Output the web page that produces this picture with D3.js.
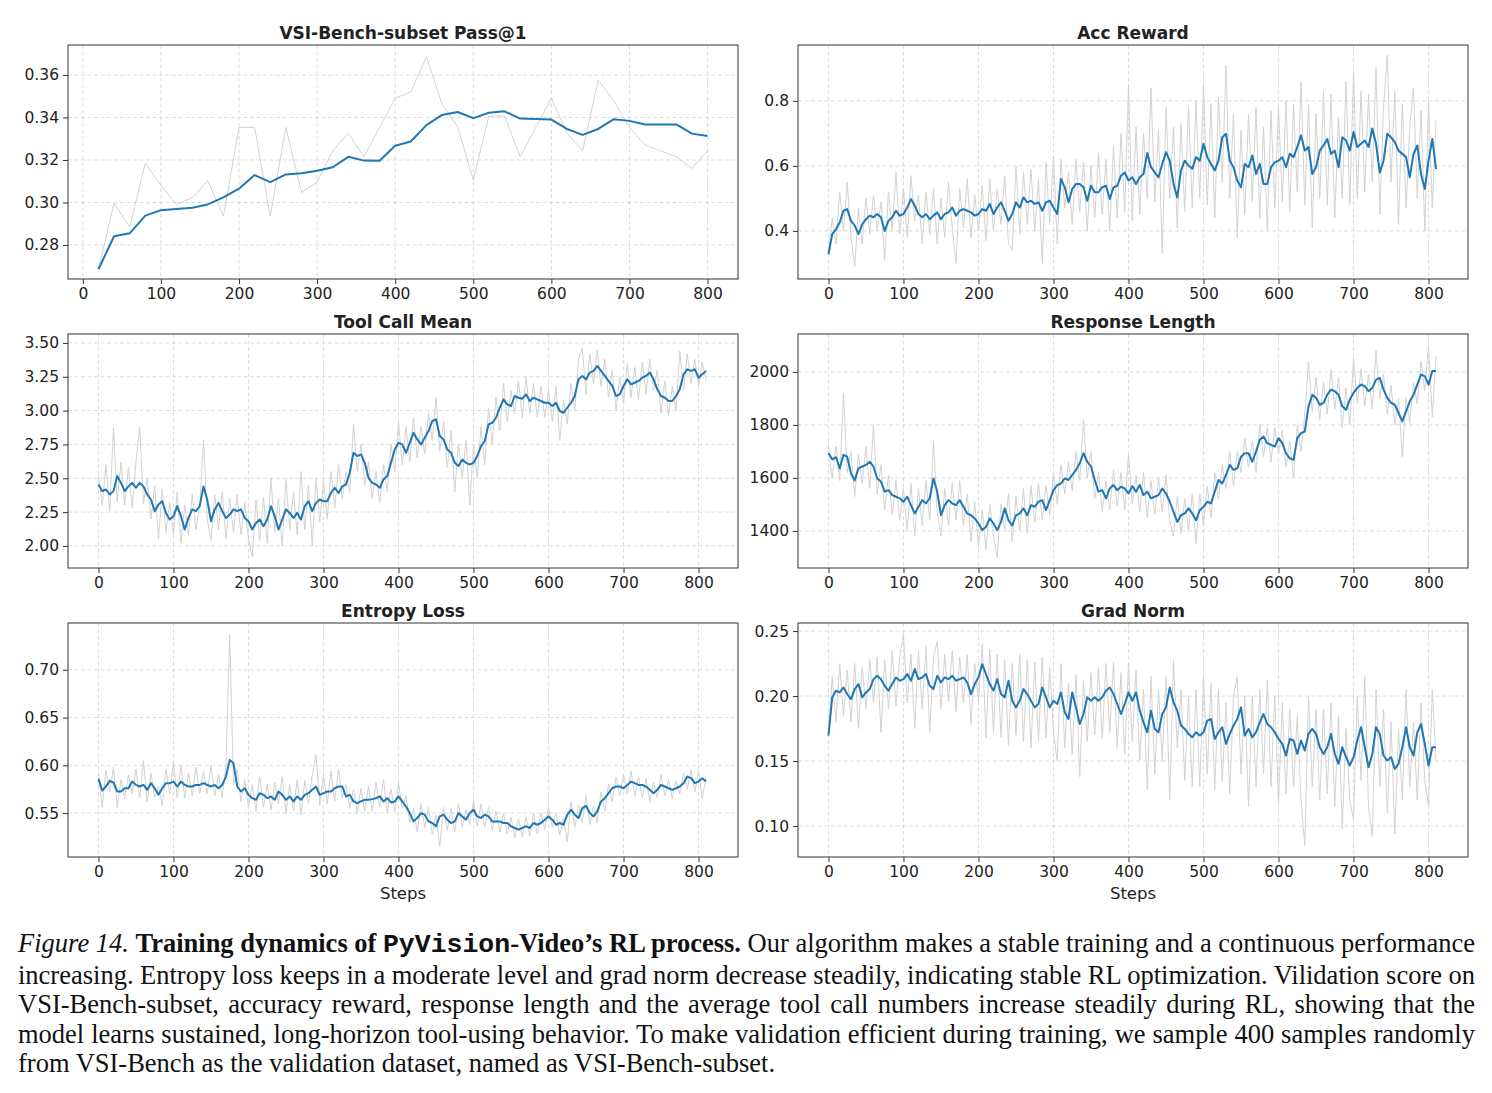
<!DOCTYPE html>
<html>
<head>
<meta charset="utf-8">
<script src="https://cdn.jsdelivr.net/npm/d3@7"></script>
<style>
  body { margin: 0; background: #fff; }
  #fig { position: relative; width: 1492px; height: 1093px; }
  #caption {
    position: absolute; left: 18px; top: 929px; width: 1457px;
    font-family: "Liberation Serif", "Times New Roman", serif;
    font-size: 26.5px; line-height: 29.5px; word-spacing: -1.5px; color: #111;
  }
  #caption div { white-space: nowrap; text-align: justify; text-align-last: justify; }
  #caption div.last { text-align-last: left; word-spacing: 0; }
  #caption .mono { font-family: "Liberation Mono", "DejaVu Sans Mono", monospace; font-weight: bold; }
  .panel text { font-family: "DejaVu Sans", sans-serif; fill: #222; }
</style>
</head>
<body>
<div id="fig">
  <svg id="chart" width="1492" height="915"></svg>
  <div id="caption">
    <div><i>Figure 14.</i> <b>Training dynamics of <span class="mono">PyVision</span>-Video’s RL process.</b> Our algorithm makes a stable training and a continuous performance</div>
    <div>increasing. Entropy loss keeps in a moderate level and grad norm decrease steadily, indicating stable RL optimization. Vilidation score on</div>
    <div>VSI-Bench-subset, accuracy reward, response length and the average tool call numbers increase steadily during RL, showing that the</div>
    <div>model learns sustained, long-horizon tool-using behavior. To make validation efficient during training, we sample 400 samples randomly</div>
    <div class="last">from VSI-Bench as the validation dataset, named as VSI-Bench-subset.</div>
  </div>
</div>
<script>
'use strict';

// ---- data ----------------------------------------------------------------

var vsiSteps = [20, 40, 60, 80, 100, 120, 140, 160, 180, 200, 220, 240, 260, 280, 300,
  320, 340, 360, 380, 400, 420, 440, 460, 480, 500, 520, 540, 560, 580, 600, 620, 640,
  660, 680, 700, 720, 740, 760, 780, 800];

var vsiSmooth = [0.2686, 0.2841, 0.2855, 0.2938, 0.2964, 0.2969, 0.2975, 0.2991, 0.3024, 0.3065,
  0.3129, 0.3096, 0.3132, 0.3138, 0.3149, 0.3166, 0.3215, 0.3197, 0.3196, 0.3267,
  0.3287, 0.3364, 0.3412, 0.3426, 0.3397, 0.3422, 0.3429, 0.3395, 0.3393, 0.3390,
  0.3346, 0.3318, 0.3346, 0.3392, 0.3384, 0.3367, 0.3367, 0.3367, 0.3324, 0.3313];

var vsiRaw = [0.2686, 0.2996, 0.2885, 0.3185, 0.3079, 0.2991, 0.3022, 0.3102, 0.2935, 0.3353,
  0.3353, 0.2935, 0.3353, 0.3047, 0.3097, 0.3243, 0.3326, 0.3215, 0.3353, 0.3491,
  0.3520, 0.3686, 0.3463, 0.3356, 0.3105, 0.3407, 0.3407, 0.3215, 0.3353, 0.3491,
  0.3326, 0.3243, 0.3575, 0.3478, 0.3353, 0.3271, 0.3243, 0.3215, 0.3160, 0.3243];

// training steps 0..810, one sample every 5 steps
var trainSteps = d3.range(0, 811, 5);

var accSmooth = [0.328, 0.390, 0.405, 0.426, 0.462, 0.467, 0.431, 0.416, 0.390, 0.420,
  0.436, 0.447, 0.442, 0.452, 0.442, 0.400, 0.431, 0.442, 0.462, 0.447,
  0.452, 0.472, 0.498, 0.478, 0.452, 0.442, 0.452, 0.436, 0.447, 0.457,
  0.436, 0.452, 0.457, 0.472, 0.447, 0.462, 0.467, 0.462, 0.457, 0.447,
  0.452, 0.467, 0.462, 0.483, 0.452, 0.472, 0.488, 0.462, 0.431, 0.452,
  0.488, 0.472, 0.503, 0.488, 0.493, 0.483, 0.488, 0.462, 0.488, 0.493,
  0.472, 0.452, 0.560, 0.534, 0.488, 0.529, 0.544, 0.544, 0.534, 0.493,
  0.539, 0.519, 0.519, 0.534, 0.539, 0.498, 0.534, 0.539, 0.570, 0.580,
  0.555, 0.565, 0.544, 0.565, 0.575, 0.640, 0.596, 0.580, 0.565, 0.606,
  0.642, 0.616, 0.544, 0.503, 0.586, 0.616, 0.601, 0.591, 0.627, 0.616,
  0.668, 0.627, 0.606, 0.586, 0.616, 0.688, 0.699, 0.616, 0.596, 0.555,
  0.534, 0.606, 0.596, 0.632, 0.575, 0.606, 0.544, 0.544, 0.596, 0.611,
  0.616, 0.627, 0.596, 0.637, 0.627, 0.658, 0.694, 0.647, 0.658, 0.575,
  0.596, 0.647, 0.663, 0.683, 0.637, 0.647, 0.596, 0.688, 0.678, 0.647,
  0.704, 0.658, 0.668, 0.678, 0.658, 0.715, 0.668, 0.580, 0.616, 0.699,
  0.688, 0.673, 0.647, 0.637, 0.627, 0.565, 0.637, 0.663, 0.575, 0.529,
  0.616, 0.683, 0.590];

var accRaw = [0.33, 0.44, 0.36, 0.52, 0.40, 0.55, 0.38, 0.29, 0.47, 0.36,
  0.50, 0.39, 0.51, 0.40, 0.49, 0.31, 0.52, 0.40, 0.58, 0.39,
  0.53, 0.38, 0.57, 0.43, 0.51, 0.36, 0.52, 0.39, 0.53, 0.36,
  0.50, 0.38, 0.55, 0.41, 0.30, 0.53, 0.41, 0.56, 0.38, 0.51,
  0.40, 0.54, 0.37, 0.56, 0.40, 0.53, 0.42, 0.57, 0.36, 0.34,
  0.60, 0.39, 0.58, 0.42, 0.59, 0.40, 0.56, 0.30, 0.61, 0.42,
  0.63, 0.36, 0.62, 0.47, 0.58, 0.42, 0.62, 0.46, 0.61, 0.40,
  0.60, 0.44, 0.64, 0.45, 0.62, 0.40, 0.66, 0.44, 0.70, 0.46,
  0.85, 0.43, 0.72, 0.45, 0.70, 0.50, 0.84, 0.49, 0.71, 0.33,
  0.78, 0.50, 0.72, 0.41, 0.73, 0.46, 0.78, 0.47, 0.80, 0.50,
  0.85, 0.48, 0.79, 0.44, 0.81, 0.55, 0.91, 0.50, 0.76, 0.38,
  0.71, 0.45, 0.76, 0.49, 0.78, 0.44, 0.72, 0.40, 0.77, 0.47,
  0.78, 0.49, 0.80, 0.46, 0.79, 0.52, 0.86, 0.48, 0.79, 0.41,
  0.76, 0.50, 0.83, 0.48, 0.82, 0.44, 0.75, 0.50, 0.86, 0.48,
  0.89, 0.50, 0.83, 0.52, 0.82, 0.55, 0.90, 0.45, 0.78, 0.94,
  0.55, 0.83, 0.42, 0.79, 0.47, 0.72, 0.84, 0.50, 0.77, 0.40,
  0.80, 0.47, 0.74];

var toolSmooth = [2.454, 2.405, 2.417, 2.380, 2.405, 2.516, 2.466, 2.405, 2.440, 2.466,
  2.430, 2.466, 2.440, 2.380, 2.343, 2.257, 2.306, 2.330, 2.244, 2.195,
  2.220, 2.294, 2.220, 2.121, 2.207, 2.270, 2.257, 2.294, 2.440, 2.343,
  2.183, 2.270, 2.318, 2.257, 2.207, 2.232, 2.270, 2.257, 2.270, 2.207,
  2.183, 2.121, 2.170, 2.195, 2.146, 2.195, 2.294, 2.220, 2.121, 2.195,
  2.270, 2.244, 2.207, 2.244, 2.195, 2.294, 2.330, 2.257, 2.318, 2.343,
  2.330, 2.330, 2.392, 2.430, 2.392, 2.440, 2.454, 2.540, 2.688, 2.664,
  2.676, 2.614, 2.503, 2.466, 2.454, 2.430, 2.491, 2.516, 2.614, 2.713,
  2.762, 2.750, 2.688, 2.762, 2.836, 2.787, 2.750, 2.800, 2.849, 2.923,
  2.935, 2.812, 2.787, 2.713, 2.688, 2.614, 2.590, 2.639, 2.614, 2.602,
  2.614, 2.664, 2.738, 2.775, 2.898, 2.910, 2.947, 3.021, 3.083, 3.046,
  3.034, 3.108, 3.095, 3.088, 3.120, 3.071, 3.095, 3.083, 3.071, 3.058,
  3.058, 3.034, 3.058, 2.997, 2.984, 3.021, 3.058, 3.108, 3.231, 3.256,
  3.231, 3.281, 3.293, 3.330, 3.293, 3.256, 3.219, 3.182, 3.108, 3.120,
  3.182, 3.231, 3.194, 3.206, 3.219, 3.243, 3.256, 3.281, 3.231, 3.157,
  3.108, 3.095, 3.071, 3.071, 3.108, 3.157, 3.268, 3.305, 3.293, 3.305,
  3.243, 3.268, 3.293];

var toolRaw = [2.52, 2.30, 2.60, 2.26, 2.87, 2.33, 2.62, 2.30, 2.58, 2.28,
  2.62, 2.88, 2.31, 2.50, 2.20, 2.45, 2.05, 2.42, 2.10, 2.32,
  2.08, 2.40, 2.02, 2.30, 2.08, 2.38, 2.12, 2.30, 2.78, 2.20,
  2.04, 2.38, 2.12, 2.40, 2.05, 2.35, 2.10, 2.38, 2.08, 2.32,
  2.05, 1.92, 2.34, 2.04, 2.36, 2.02, 2.50, 2.10, 2.35, 2.00,
  2.49, 2.12, 2.40, 2.08, 2.55, 2.12, 2.45, 2.00, 2.50, 2.18,
  2.48, 2.20, 2.55, 2.28, 2.60, 2.35, 2.55, 2.40, 2.90, 2.55,
  2.75, 2.45, 2.62, 2.35, 2.55, 2.32, 2.60, 2.40, 2.75, 2.55,
  2.92, 2.60, 2.88, 2.62, 2.95, 2.65, 2.88, 2.68, 2.98, 2.78,
  3.10, 2.70, 2.92, 2.58, 2.85, 2.40, 2.75, 2.50, 2.78, 2.30,
  2.75, 2.50, 2.88, 2.60, 3.02, 2.75, 3.10, 2.85, 3.20, 2.92,
  3.15, 2.98, 3.22, 2.95, 3.25, 2.98, 3.20, 2.95, 3.18, 2.95,
  3.15, 2.92, 3.18, 2.78, 3.08, 2.90, 3.20, 3.00, 3.38, 3.46,
  3.12, 3.42, 3.20, 3.45, 3.18, 3.38, 3.10, 3.30, 3.00, 3.25,
  3.05, 3.35, 3.10, 3.32, 3.08, 3.36, 3.12, 3.38, 3.15, 3.30,
  2.98, 3.22, 2.96, 3.18, 3.00, 3.44, 3.15, 3.42, 3.20, 3.38,
  3.18, 3.36, 3.22];

var lenSmooth = [1693, 1670, 1678, 1636, 1687, 1680, 1617, 1590, 1636, 1643,
  1649, 1661, 1643, 1598, 1586, 1548, 1554, 1535, 1529, 1523,
  1510, 1529, 1497, 1466, 1491, 1516, 1504, 1523, 1598, 1548,
  1459, 1497, 1516, 1504, 1497, 1516, 1491, 1466, 1459, 1447,
  1428, 1403, 1415, 1447, 1428, 1403, 1434, 1485, 1440, 1421,
  1459, 1466, 1485, 1459, 1497, 1491, 1510, 1516, 1478, 1516,
  1554, 1573, 1579, 1598, 1592, 1611, 1630, 1655, 1693, 1661,
  1643, 1592, 1548, 1554, 1523, 1560, 1573, 1554, 1567, 1560,
  1541, 1569, 1548, 1573, 1535, 1548, 1523, 1529, 1535, 1560,
  1541, 1510, 1472, 1434, 1459, 1466, 1485, 1466, 1440, 1478,
  1491, 1510, 1504, 1548, 1592, 1579, 1611, 1649, 1630, 1636,
  1680, 1693, 1693, 1661, 1699, 1744, 1756, 1731, 1725, 1718,
  1750, 1731, 1693, 1674, 1668, 1750, 1769, 1775, 1870, 1914,
  1902, 1876, 1883, 1914, 1933, 1927, 1914, 1870, 1857, 1895,
  1921, 1940, 1952, 1946, 1927, 1940, 1971, 1977, 1933, 1902,
  1883, 1876, 1845, 1813, 1851, 1889, 1914, 1952, 1990, 1984,
  1952, 2003, 2003];

var lenRaw = [1720, 1600, 1720, 1590, 1920, 1620, 1700, 1530, 1690, 1580,
  1720, 1560, 1800, 1540, 1650, 1480, 1610, 1460, 1590, 1440,
  1560, 1400, 1580, 1380, 1560, 1420, 1590, 1440, 1740, 1470,
  1380, 1560, 1420, 1580, 1440, 1590, 1420, 1540, 1360, 1510,
  1340, 1480, 1330, 1500, 1380, 1300, 1500, 1400, 1540, 1360,
  1530, 1400, 1560, 1390, 1570, 1430, 1580, 1440, 1570, 1460,
  1620, 1500, 1650, 1540, 1660, 1550, 1700, 1590, 1820, 1600,
  1700, 1520, 1620, 1470, 1590, 1480, 1630, 1490, 1620, 1480,
  1690, 1500, 1610, 1470, 1620, 1450, 1590, 1460, 1600, 1470,
  1610, 1440, 1380, 1530, 1390, 1520, 1400, 1540, 1350, 1540,
  1420, 1570, 1450, 1620, 1520, 1650, 1560, 1700, 1570, 1700,
  1620, 1750, 1640, 1740, 1620, 1800, 1680, 1790, 1660, 1790,
  1690, 1780, 1640, 1740, 1600, 1800, 1700, 1840, 2040, 1850,
  1980, 1820, 1960, 1840, 2010, 1860, 1980, 1790, 1940, 1800,
  2050, 1880, 2010, 1870, 1990, 1860, 2080, 1900, 1990, 1840,
  1950, 1800, 1900, 1680, 1900, 1810, 1960, 1880, 2040, 1930,
  2100, 1830, 2060];

var entSmooth = [0.5858, 0.5736, 0.5778, 0.5837, 0.5820, 0.5726, 0.5726, 0.5760, 0.5760, 0.5830,
  0.5795, 0.5778, 0.5795, 0.5743, 0.5813, 0.5760, 0.5691, 0.5760, 0.5813, 0.5813,
  0.5830, 0.5778, 0.5830, 0.5795, 0.5778, 0.5778, 0.5795, 0.5795, 0.5813, 0.5795,
  0.5778, 0.5795, 0.5760, 0.5795, 0.5882, 0.6056, 0.6021, 0.5778, 0.5726, 0.5760,
  0.5691, 0.5656, 0.5639, 0.5708, 0.5691, 0.5656, 0.5674, 0.5639, 0.5726, 0.5691,
  0.5639, 0.5674, 0.5622, 0.5674, 0.5639, 0.5691, 0.5708, 0.5743, 0.5778, 0.5691,
  0.5708, 0.5726, 0.5726, 0.5760, 0.5778, 0.5778, 0.5674, 0.5691, 0.5622, 0.5604,
  0.5622, 0.5639, 0.5639, 0.5646, 0.5656, 0.5674, 0.5622, 0.5656, 0.5611, 0.5622,
  0.5674, 0.5622, 0.5569, 0.5500, 0.5413, 0.5448, 0.5500, 0.5483, 0.5413, 0.5396,
  0.5361, 0.5465, 0.5483, 0.5431, 0.5396, 0.5413, 0.5500, 0.5465, 0.5431, 0.5500,
  0.5535, 0.5465, 0.5448, 0.5483, 0.5465, 0.5413, 0.5413, 0.5413, 0.5396, 0.5396,
  0.5361, 0.5344, 0.5326, 0.5344, 0.5361, 0.5344, 0.5396, 0.5378, 0.5396, 0.5431,
  0.5465, 0.5431, 0.5378, 0.5396, 0.5378, 0.5483, 0.5535, 0.5483, 0.5448, 0.5552,
  0.5576, 0.5500, 0.5465, 0.5517, 0.5622, 0.5656, 0.5708, 0.5760, 0.5778, 0.5778,
  0.5760, 0.5795, 0.5830, 0.5813, 0.5795, 0.5795, 0.5778, 0.5743, 0.5708, 0.5743,
  0.5795, 0.5778, 0.5760, 0.5743, 0.5760, 0.5778, 0.5813, 0.5882, 0.5865, 0.5813,
  0.5830, 0.5865, 0.5830];

var entRaw = [0.592, 0.556, 0.595, 0.572, 0.598, 0.556, 0.585, 0.565, 0.590, 0.570,
  0.596, 0.566, 0.605, 0.562, 0.592, 0.566, 0.578, 0.558, 0.596, 0.570,
  0.604, 0.566, 0.600, 0.566, 0.592, 0.568, 0.598, 0.570, 0.594, 0.570,
  0.600, 0.568, 0.590, 0.566, 0.600, 0.737, 0.580, 0.595, 0.562, 0.585,
  0.556, 0.580, 0.552, 0.588, 0.556, 0.580, 0.553, 0.582, 0.560, 0.588,
  0.550, 0.580, 0.552, 0.585, 0.548, 0.584, 0.560, 0.590, 0.611, 0.558,
  0.590, 0.560, 0.594, 0.562, 0.596, 0.566, 0.580, 0.555, 0.575, 0.550,
  0.576, 0.552, 0.578, 0.552, 0.582, 0.556, 0.585, 0.550, 0.575, 0.552,
  0.582, 0.555, 0.568, 0.540, 0.555, 0.530, 0.560, 0.535, 0.556, 0.528,
  0.548, 0.515, 0.556, 0.532, 0.555, 0.530, 0.560, 0.535, 0.554, 0.538,
  0.564, 0.536, 0.560, 0.535, 0.556, 0.532, 0.552, 0.530, 0.550, 0.528,
  0.546, 0.524, 0.544, 0.525, 0.546, 0.526, 0.550, 0.528, 0.550, 0.533,
  0.556, 0.535, 0.550, 0.527, 0.545, 0.520, 0.562, 0.535, 0.558, 0.540,
  0.568, 0.538, 0.558, 0.540, 0.572, 0.552, 0.580, 0.562, 0.588, 0.568,
  0.590, 0.570, 0.594, 0.568, 0.588, 0.566, 0.586, 0.562, 0.582, 0.566,
  0.590, 0.568, 0.585, 0.565, 0.584, 0.570, 0.592, 0.575, 0.596, 0.572,
  0.594, 0.565, 0.588];

var gradSmooth = [0.1696, 0.1990, 0.2041, 0.2028, 0.2066, 0.2015, 0.1977, 0.2054, 0.2092, 0.1990,
  0.2028, 0.2054, 0.2130, 0.2156, 0.2130, 0.2079, 0.2041, 0.2092, 0.2143, 0.2118,
  0.2130, 0.2169, 0.2118, 0.2207, 0.2130, 0.2143, 0.2169, 0.2079, 0.2054, 0.2156,
  0.2105, 0.2143, 0.2130, 0.2156, 0.2118, 0.2130, 0.2143, 0.2105, 0.2015, 0.2092,
  0.2143, 0.2245, 0.2169, 0.2092, 0.2041, 0.2130, 0.2015, 0.1990, 0.2118, 0.1964,
  0.1913, 0.1964, 0.2054, 0.2015, 0.1964, 0.1913, 0.1939, 0.2066, 0.1990, 0.1913,
  0.1964, 0.1939, 0.2028, 0.1875, 0.1824, 0.2028, 0.1913, 0.1785, 0.1862, 0.1990,
  0.1964, 0.1990, 0.1964, 0.1990, 0.2041, 0.2066, 0.2015, 0.1939, 0.1862, 0.1939,
  0.2028, 0.1964, 0.2028, 0.1888, 0.1798, 0.1721, 0.1888, 0.1747, 0.1721, 0.1862,
  0.1913, 0.2066, 0.1951, 0.1888, 0.1773, 0.1747, 0.1709, 0.1683, 0.1721, 0.1696,
  0.1721, 0.1811, 0.1824, 0.1670, 0.1721, 0.1760, 0.1632, 0.1709, 0.1773, 0.1824,
  0.1913, 0.1696, 0.1747, 0.1683, 0.1721, 0.1798, 0.1862, 0.1785, 0.1760, 0.1721,
  0.1670, 0.1632, 0.1543, 0.1670, 0.1658, 0.1555, 0.1658, 0.1581, 0.1709, 0.1747,
  0.1709, 0.1606, 0.1555, 0.1606, 0.1709, 0.1555, 0.1479, 0.1606, 0.1530, 0.1466,
  0.1530, 0.1658, 0.1760, 0.1606, 0.1453, 0.1555, 0.1760, 0.1709, 0.1543, 0.1504,
  0.1530, 0.1440, 0.1479, 0.1606, 0.1760, 0.1606, 0.1543, 0.1721, 0.1785, 0.1632,
  0.1466, 0.1606, 0.1606];

var gradRaw = [0.170, 0.215, 0.180, 0.225, 0.185, 0.220, 0.180, 0.225, 0.175, 0.222,
  0.190, 0.228, 0.195, 0.230, 0.172, 0.228, 0.190, 0.235, 0.192, 0.230,
  0.248, 0.195, 0.232, 0.175, 0.235, 0.190, 0.238, 0.172, 0.230, 0.242,
  0.190, 0.232, 0.196, 0.235, 0.188, 0.230, 0.195, 0.232, 0.178, 0.225,
  0.195, 0.240, 0.168, 0.236, 0.172, 0.232, 0.168, 0.228, 0.162, 0.225,
  0.170, 0.232, 0.165, 0.228, 0.160, 0.226, 0.165, 0.230, 0.168, 0.222,
  0.172, 0.150, 0.225, 0.160, 0.210, 0.155, 0.216, 0.138, 0.212, 0.165,
  0.218, 0.170, 0.222, 0.168, 0.225, 0.172, 0.226, 0.160, 0.218, 0.155,
  0.225, 0.165, 0.220, 0.150, 0.205, 0.128, 0.215, 0.140, 0.205, 0.150,
  0.215, 0.120, 0.228, 0.160, 0.205, 0.135, 0.200, 0.130, 0.205, 0.130,
  0.215, 0.140, 0.210, 0.128, 0.205, 0.135, 0.195, 0.125, 0.200, 0.215,
  0.140, 0.200, 0.115, 0.200, 0.130, 0.205, 0.140, 0.212, 0.130, 0.200,
  0.118, 0.195, 0.125, 0.190, 0.130, 0.185, 0.120, 0.085, 0.200, 0.130,
  0.190, 0.120, 0.190, 0.125, 0.195, 0.115, 0.185, 0.098, 0.175, 0.120,
  0.105, 0.200, 0.135, 0.215, 0.115, 0.092, 0.205, 0.130, 0.190, 0.110,
  0.180, 0.094, 0.175, 0.120, 0.205, 0.130, 0.180, 0.120, 0.195, 0.135,
  0.115, 0.205, 0.150];

var stepTicks = [0, 100, 200, 300, 400, 500, 600, 700, 800];

// ---- layout --------------------------------------------------------------

var PANEL_W = 670,
    PANEL_H = 234,
    COLS = [68, 798],
    ROWS = [45, 334, 623];

var panels = [
  {title: 'VSI-Bench-subset Pass@1', col: 0, row: 0, steps: vsiSteps,
    smooth: vsiSmooth, raw: vsiRaw, xDomain: [-19, 839], yDomain: [0.2640, 0.3741],
    yTicks: [0.28, 0.30, 0.32, 0.34, 0.36], fmt: '.2f'},
  {title: 'Acc Reward', col: 1, row: 0, steps: trainSteps,
    smooth: accSmooth, raw: accRaw, xDomain: [-40.6, 852.6], yDomain: [0.252, 0.972],
    yTicks: [0.4, 0.6, 0.8], fmt: '.1f'},
  {title: 'Tool Call Mean', col: 0, row: 1, steps: trainSteps,
    smooth: toolSmooth, raw: toolRaw, xDomain: [-40.6, 852.6], yDomain: [1.837, 3.566],
    yTicks: [2.00, 2.25, 2.50, 2.75, 3.00, 3.25, 3.50], fmt: '.2f'},
  {title: 'Response Length', col: 1, row: 1, steps: trainSteps,
    smooth: lenSmooth, raw: lenRaw, xDomain: [-40.6, 852.6], yDomain: [1260, 2143],
    yTicks: [1400, 1600, 1800, 2000], fmt: 'd'},
  {title: 'Entropy Loss', col: 0, row: 2, steps: trainSteps,
    smooth: entSmooth, raw: entRaw, xDomain: [-40.6, 852.6], yDomain: [0.504, 0.749],
    yTicks: [0.55, 0.60, 0.65, 0.70], fmt: '.2f', xLabel: 'Steps'},
  {title: 'Grad Norm', col: 1, row: 2, steps: trainSteps,
    smooth: gradSmooth, raw: gradRaw, xDomain: [-40.6, 852.6], yDomain: [0.0762, 0.2562],
    yTicks: [0.10, 0.15, 0.20, 0.25], fmt: '.2f', xLabel: 'Steps'}
];

// ---- drawing -------------------------------------------------------------

var svg = d3.select('#chart');

function drawPanel(p, i) {
  var left = COLS[p.col],
      top = ROWS[p.row],
      g,
      line,
      pts,
      x,
      y;

  x = d3.scaleLinear().domain(p.xDomain).range([left, left + PANEL_W]);
  y = d3.scaleLinear().domain(p.yDomain).range([top + PANEL_H, top]);

  g = svg.append('g').attr('class', 'panel');

  svg.append('clipPath').attr('id', 'clip' + i)
    .append('rect')
    .attr('x', left).attr('y', top)
    .attr('width', PANEL_W).attr('height', PANEL_H);

  // dashed grid
  g.append('g').selectAll('line').data(stepTicks).enter().append('line')
    .attr('x1', function (d) { return x(d); })
    .attr('x2', function (d) { return x(d); })
    .attr('y1', top).attr('y2', top + PANEL_H)
    .attr('stroke', '#d4d4d4').attr('stroke-width', 0.8)
    .attr('stroke-dasharray', '4,2.5');
  g.append('g').selectAll('line').data(p.yTicks).enter().append('line')
    .attr('x1', left).attr('x2', left + PANEL_W)
    .attr('y1', function (d) { return y(d); })
    .attr('y2', function (d) { return y(d); })
    .attr('stroke', '#d4d4d4').attr('stroke-width', 0.8)
    .attr('stroke-dasharray', '4,2.5');

  pts = p.steps.map(function (s, k) {
    return {s: s, raw: p.raw[k], smooth: p.smooth[k]};
  });

  line = function (key) {
    return d3.line()
      .x(function (d) { return x(d.s); })
      .y(function (d) { return y(d[key]); });
  };

  g.append('path').datum(pts)
    .attr('clip-path', 'url(#clip' + i + ')')
    .attr('fill', 'none')
    .attr('stroke', '#d2d2d2')
    .attr('stroke-width', 1)
    .attr('d', line('raw'));

  g.append('path').datum(pts)
    .attr('clip-path', 'url(#clip' + i + ')')
    .attr('fill', 'none')
    .attr('stroke', '#1f77b4')
    .attr('stroke-width', 2)
    .attr('stroke-linejoin', 'round')
    .attr('d', line('smooth'));

  // axes
  g.append('g')
    .attr('transform', 'translate(0,' + (top + PANEL_H) + ')')
    .call(d3.axisBottom(x).tickValues(stepTicks).tickSize(5).tickPadding(4))
    .call(styleAxis);

  g.append('g')
    .attr('transform', 'translate(' + left + ',0)')
    .call(d3.axisLeft(y).tickValues(p.yTicks).tickFormat(d3.format(p.fmt))
      .tickSize(5).tickPadding(4))
    .call(styleAxis);

  g.append('rect')
    .attr('x', left).attr('y', top)
    .attr('width', PANEL_W).attr('height', PANEL_H)
    .attr('fill', 'none').attr('stroke', '#333').attr('stroke-width', 1);

  g.append('text')
    .attr('x', left + PANEL_W / 2).attr('y', top - 6)
    .attr('text-anchor', 'middle')
    .style('font-size', '17px').style('font-weight', 'bold')
    .text(p.title);

  if (p.xLabel) {
    g.append('text')
      .attr('x', left + PANEL_W / 2).attr('y', top + PANEL_H + 42)
      .attr('text-anchor', 'middle')
      .style('font-size', '16.5px')
      .text(p.xLabel);
  }
}

function styleAxis(sel) {
  sel.select('.domain').remove();
  sel.selectAll('.tick line').attr('stroke', '#333');
  sel.selectAll('.tick text')
    .style('font-family', '"DejaVu Sans", sans-serif')
    .style('font-size', '15.5px')
    .attr('fill', '#222');
}

panels.forEach(drawPanel);
</script>
</body>
</html>
